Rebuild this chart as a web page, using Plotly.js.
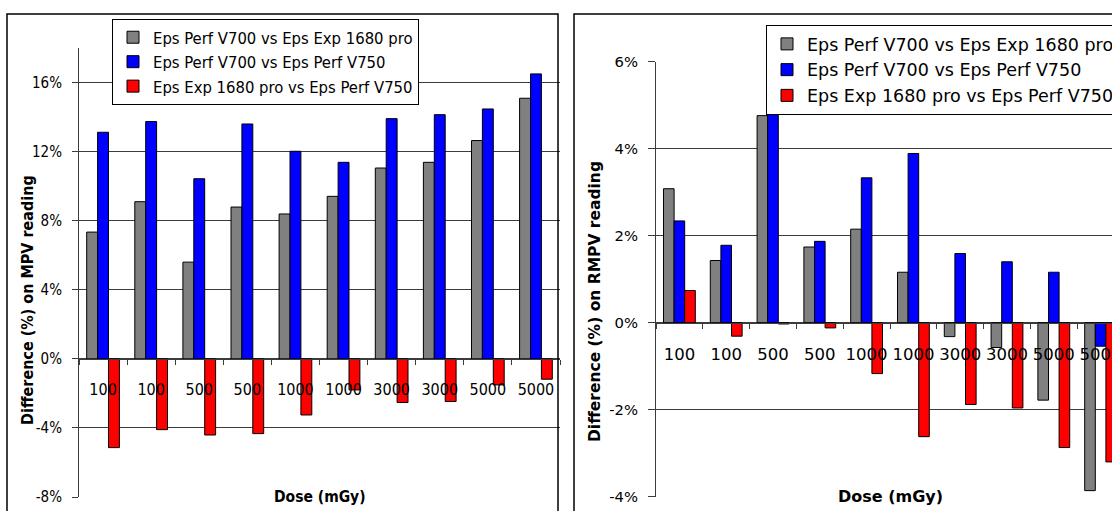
<!DOCTYPE html>
<html>
<head>
<meta charset="utf-8">
<script src="https://cdn.plot.ly/plotly-3.0.1.min.js"></script>
<style>
  html, body { margin: 0; padding: 0; overflow: hidden; background: #fff; }
  #chart { width: 1140px; height: 540px; }
</style>
</head>
<body>
<div id="chart"></div>
<script>
// ---------- data ----------
const doseLabels = ['100', '100', '500', '500', '1000', '1000', '3000', '3000', '5000', '5000'];
const seriesNames = ['Eps Perf V700 vs Eps Exp 1680 pro', 'Eps Perf V700 vs Eps Perf V750', 'Eps Exp 1680 pro vs Eps Perf V750'];

// Left chart: difference (%) on MPV reading
const mpvV700vs1680 = [7.34, 9.10, 5.60, 8.79, 8.39, 9.41, 11.05, 11.38, 12.64, 15.09];
const mpvV700vsV750 = [13.12, 13.74, 10.43, 13.60, 12.02, 11.38, 13.91, 14.14, 14.47, 16.50];
const mpv1680vsV750 = [-5.14, -4.10, -4.41, -4.33, -3.25, -1.80, -2.53, -2.47, -1.51, -1.18];

// Right chart: difference (%) on RMPV reading
const rmpvV700vs1680 = [3.08, 1.43, 4.76, 1.74, 2.15, 1.16, -0.32, -0.57, -1.78, -3.86];
const rmpvV700vsV750 = [2.34, 1.78, 4.80, 1.87, 3.33, 3.89, 1.59, 1.40, 1.16, -0.54];
const rmpv1680vsV750 = [0.74, -0.31, -0.03, -0.12, -1.17, -2.62, -1.88, -1.96, -2.87, -3.20];

const yTickValsL = [-8, -4, 0, 4, 8, 12, 16];
const yTickTextL = ['-8%', '-4%', '0%', '4%', '8%', '12%', '16%'];
const yRangeL = [-8, 18];
const yTickValsR = [-4, -2, 0, 2, 4, 6];
const yTickTextR = ['-4%', '-2%', '0%', '2%', '4%', '6%'];
const yRangeR = [-4, 6];

const yTitleL = 'Difference (%) on MPV reading';
const yTitleR = 'Difference (%) on RMPV reading';
const xTitle = 'Dose (mGy)';

// ---------- styling / layout ----------
const colors = ['#808080', '#0000ff', '#ff0000'];
const W = 1140, H = 540;
const px = v => v / W;
const py = v => 1 - v / H;
const fontL = 'DejaVu Sans Condensed, DejaVu Sans, sans-serif';
const fontR = 'DejaVu Sans, sans-serif';
const gridCol = '#3c3c3c';

const idx = doseLabels.map((_, i) => i);
const xRange = [-0.5, doseLabels.length - 0.5];

// plot boxes in pixels
const L = { x0: 79, x1: 560, top: 48, bottom: 497 };
const R = { x0: 656, x1: 1124, top: 61.7, bottom: 496.7 };

function zeroPos(box, range) {
  const b = py(box.bottom), t = py(box.top);
  return b + (0 - range[0]) / (range[1] - range[0]) * (t - b);
}

const leftSeries = [mpvV700vs1680, mpvV700vsV750, mpv1680vsV750];
const rightSeries = [rmpvV700vs1680, rmpvV700vsV750, rmpv1680vsV750];

const traces = [];
leftSeries.forEach((vals, k) => traces.push({
  type: 'bar', x: idx, y: vals, name: seriesNames[k],
  marker: { color: colors[k], line: { color: '#000', width: 1 } },
  xaxis: 'x', yaxis: 'y', legend: 'legend', hoverinfo: 'skip'
}));
rightSeries.forEach((vals, k) => traces.push({
  type: 'bar', x: idx, y: vals, name: seriesNames[k],
  marker: { color: colors[k], line: { color: '#000', width: 1 } },
  xaxis: 'x2', yaxis: 'y2', legend: 'legend2', hoverinfo: 'skip'
}));

function xAxis(box, range, fam, size) {
  return {
    type: 'linear', domain: [px(box.x0), px(box.x1)], range: xRange,
    anchor: 'free', position: zeroPos(box, range),
    tickmode: 'array', tickvals: idx, ticktext: doseLabels, ticks: '',
    ticklabelstandoff: 16,
    tickfont: { family: fam, size: size, color: '#000' },
    minor: { tickmode: 'linear', tick0: -0.5, dtick: 1, ticks: 'outside', ticklen: 5, tickwidth: 1, tickcolor: gridCol, showgrid: false },
    showline: true, linecolor: gridCol, linewidth: 1,
    showgrid: false, zeroline: false, fixedrange: true
  };
}
function yAxis(box, range, tv, tt, anchor, fam, size, tlen) {
  return {
    domain: [py(box.bottom), py(box.top)], range: range, anchor: anchor,
    tickmode: 'array', tickvals: tv, ticktext: tt,
    ticks: 'outside', ticklen: tlen, tickwidth: 1, tickcolor: gridCol,
    ticklabelstandoff: 7,
    tickfont: { family: fam, size: size, color: '#000' },
    showline: true, linecolor: gridCol, linewidth: 1,
    showgrid: true, gridcolor: gridCol, gridwidth: 1,
    zeroline: false, fixedrange: true
  };
}

const layout = {
  width: W, height: H,
  margin: { l: 0, r: 0, t: 0, b: 0, pad: 0 },
  paper_bgcolor: '#fff', plot_bgcolor: '#fff',
  barmode: 'group', bargap: 0.32, bargroupgap: 0,
  showlegend: true,
  xaxis: xAxis(L, yRangeL, fontL, 16),
  yaxis: yAxis(L, yRangeL, yTickValsL, yTickTextL, 'x', fontL, 15, 6),
  xaxis2: xAxis(R, yRangeR, fontR, 16.5),
  yaxis2: yAxis(R, yRangeR, yTickValsR, yTickTextR, 'x2', fontR, 14.8, 7),
  legend: {
    x: px(112), y: py(19), xanchor: 'left', yanchor: 'top',
    bgcolor: '#fff', bordercolor: '#000', borderwidth: 1,
    font: { family: fontL, size: 16.5, color: '#000' }, orientation: 'v'
  },
  legend2: {
    x: px(766), y: py(25), xanchor: 'left', yanchor: 'top',
    bgcolor: '#fff', bordercolor: '#000', borderwidth: 1,
    font: { family: fontR, size: 17.5, color: '#000' }, orientation: 'v'
  },
  annotations: [
    { xref: 'paper', yref: 'paper', x: px(27), y: py(300), text: '<b>' + yTitleL + '</b>', textangle: -90,
      showarrow: false, xanchor: 'center', yanchor: 'middle', font: { family: fontL, size: 16, color: '#000' } },
    { xref: 'paper', yref: 'paper', x: px(595), y: py(302), text: '<b>' + yTitleR + '</b>', textangle: -90,
      showarrow: false, xanchor: 'center', yanchor: 'middle', font: { family: fontR, size: 15.5, color: '#000' } },
    { xref: 'paper', yref: 'paper', x: (px(L.x0) + px(L.x1)) / 2, y: py(L.bottom), text: '<b>' + xTitle + '</b>',
      showarrow: false, xanchor: 'center', yanchor: 'middle', bgcolor: '#fff', borderpad: 3,
      font: { family: fontL, size: 15.5, color: '#000' } },
    { xref: 'paper', yref: 'paper', x: (px(R.x0) + px(R.x1)) / 2, y: py(R.bottom), text: '<b>' + xTitle + '</b>',
      showarrow: false, xanchor: 'center', yanchor: 'middle', bgcolor: '#fff', borderpad: 3,
      font: { family: fontR, size: 16, color: '#000' } }
  ],
  shapes: [
    { type: 'rect', xref: 'paper', yref: 'paper', x0: px(7), x1: px(558), y0: py(14), y1: py(532),
      line: { color: '#000', width: 1.5 }, fillcolor: 'rgba(0,0,0,0)', layer: 'above' },
    { type: 'rect', xref: 'paper', yref: 'paper', x0: px(574), x1: px(1136), y0: py(14), y1: py(532),
      line: { color: '#000', width: 1.5 }, fillcolor: 'rgba(0,0,0,0)', layer: 'above' }
  ]
};

Plotly.newPlot('chart', traces, layout, { staticPlot: true, displayModeBar: false });
</script>
</body>
</html>
